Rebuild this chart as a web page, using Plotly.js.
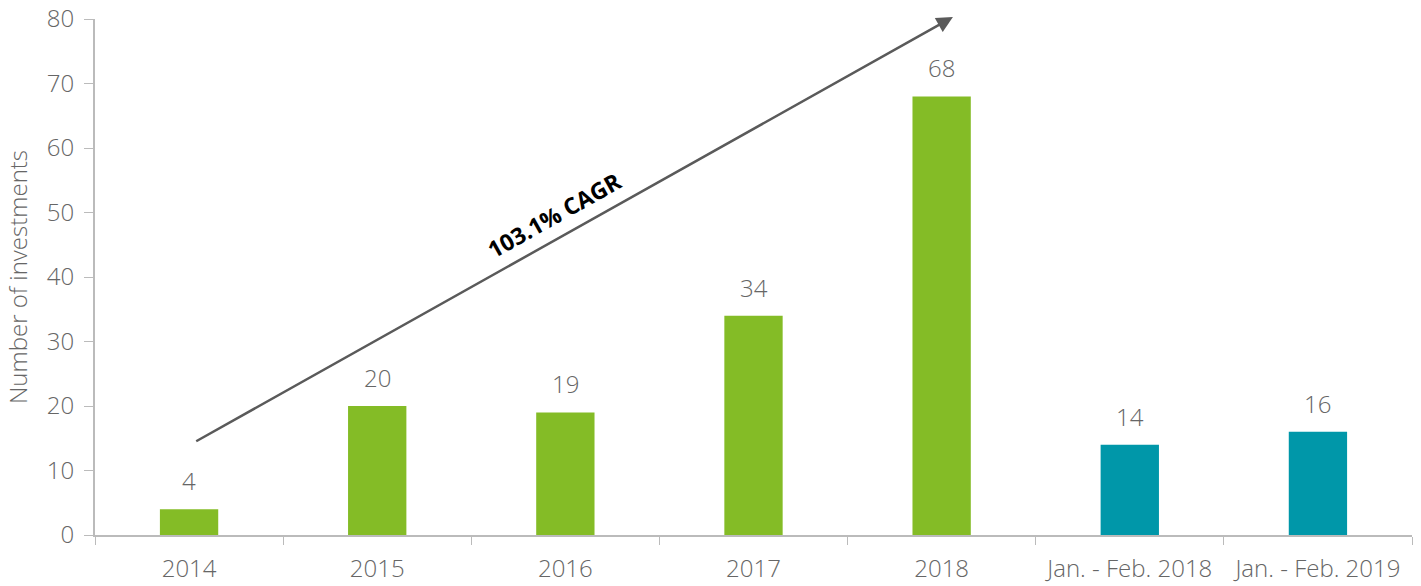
<!DOCTYPE html>
<html><head><meta charset="utf-8">
<script src="https://cdn.plot.ly/plotly-3.0.1.min.js"></script>
<style>body{margin:0;padding:0;background:#fff}#chart{width:1421px;height:586px}</style>
</head><body><div id="chart"></div>
<script>
const categories = ["2014","2015","2016","2017","2018","Jan. - Feb. 2018","Jan. - Feb. 2019"];
const values = [4,20,19,34,68,14,16];
const barColors = ["#84BC26","#84BC26","#84BC26","#84BC26","#84BC26","#0097A9","#0097A9"];
const cagrLabel = "103.1% CAGR";
const arrowStart = {x: 0.03, y: 14.4};
const arrowEnd = {x: 4.06, y: 80.3};

const font = "'Open Sans', sans-serif";
const trace = {
  type: "bar", x: categories, y: values,
  marker: {color: barColors},
  hoverinfo: "none"
};
const valueLabels = categories.map((c, i) => ({
  x: i, y: values[i], xref: "x", yref: "y", text: String(values[i]), showarrow: false,
  yanchor: "bottom", yshift: 10,
  font: {family: font, size: 24, color: "#666", weight: 300}
}));
const layout = {
  width: 1421, height: 586,
  margin: {l: 95, r: 9, t: 19, b: 51},
  paper_bgcolor: "#fff", plot_bgcolor: "#fff",
  bargap: 0.69, showlegend: false,
  font: {family: font, color: "#666"},
  xaxis: {
    type: "category", tickson: "boundaries", ticks: "outside", ticklen: 8, tickcolor: "#bbb",
    showline: true, linecolor: "#bbb", linewidth: 2, showgrid: false, ticklabelstandoff: 11,
    tickfont: {family: font, size: 24, color: "#666", weight: 300}, range: [-0.5, 6.5]
  },
  yaxis: {
    range: [0, 80], dtick: 10, ticks: "outside", ticklen: 9, tickcolor: "#bbb",
    showline: true, linecolor: "#bbb", linewidth: 2, showgrid: false, zeroline: false,
    ticklabelstandoff: 5,
    tickfont: {family: font, size: 24, color: "#666", weight: 300},
    title: {text: "Number of investments", font: {family: font, size: 24, color: "#666", weight: 300}, standoff: 12}
  },
  annotations: valueLabels.concat([
    {x: arrowEnd.x, y: arrowEnd.y, ax: arrowStart.x, ay: arrowStart.y,
     xref: "x", yref: "y", axref: "x", ayref: "y", text: "", showarrow: true,
     arrowhead: 2, arrowsize: 1.3, arrowwidth: 2.5, arrowcolor: "#5a5a5a"},
    {x: 1.94, y: 49.6, xref: "x", yref: "y", text: "<b>" + cagrLabel + "</b>", showarrow: false,
     textangle: -29.3, font: {family: font, size: 23, color: "#000"}}
  ])
};
Plotly.newPlot("chart", [trace], layout, {staticPlot: true});
</script></body></html>
